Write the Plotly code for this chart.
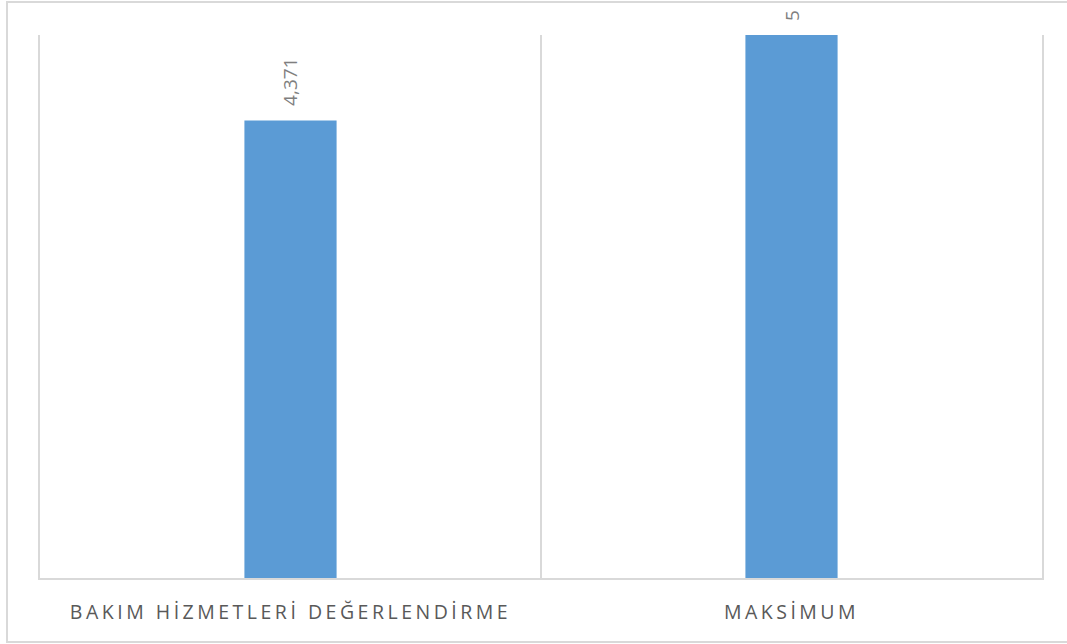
import plotly.graph_objects as go

categories = ["BAKIM HİZMETLERİ DEĞERLENDİRME", "MAKSİMUM"]
values = [4.371, 5]
value_labels = ["4,371", "5"]

bar_color = "#5B9BD5"
grid_color = "#D9D9D9"
label_color = "#595959"

ticktext = [f'<span style="letter-spacing:3.5px">{c}</span>' for c in categories]

fig = go.Figure()
fig.add_trace(go.Bar(
    x=categories, y=values, marker=dict(color=bar_color, line=dict(width=0)),
    hoverinfo="skip", cliponaxis=True,
))

for c, v, t in zip(categories, values, value_labels):
    fig.add_annotation(
        x=c, y=v, xref="x", yref="y", text=t, showarrow=False,
        textangle=-90, yanchor="bottom", xanchor="center", yshift=12,
        font=dict(family="Open Sans", size=19, color="#7F7F7F"),
    )

# outer chart border
fig.add_shape(type="rect", xref="paper", yref="paper",
              x0=(7 - 40) / 1002, x1=(1070 - 40) / 1002,
              y0=(578 - 642) / 543, y1=(578 - 2) / 543,
              line=dict(color=grid_color, width=2), layer="below")

fig.update_layout(
    width=1067, height=644,
    margin=dict(l=40, r=25, t=35, b=66),
    paper_bgcolor="white", plot_bgcolor="white",
    showlegend=False, bargap=0.816,
    font=dict(family="Open Sans", color=label_color),
)
fig.update_xaxes(
    type="category", tickson="boundaries", showgrid=True, gridcolor=grid_color, gridwidth=2,
    showline=True, linecolor=grid_color, linewidth=2,
    ticks="", ticklabelstandoff=16,
    tickvals=categories, ticktext=ticktext,
    tickfont=dict(family="Open Sans", size=19.5, color=label_color),
    zeroline=False, fixedrange=True,
)
fig.update_yaxes(range=[1, 5], showgrid=False, showticklabels=False, zeroline=False,
                 showline=True, mirror=True, linecolor=grid_color, linewidth=2,
                 ticks="", fixedrange=True)

fig.write_html("out.html")
